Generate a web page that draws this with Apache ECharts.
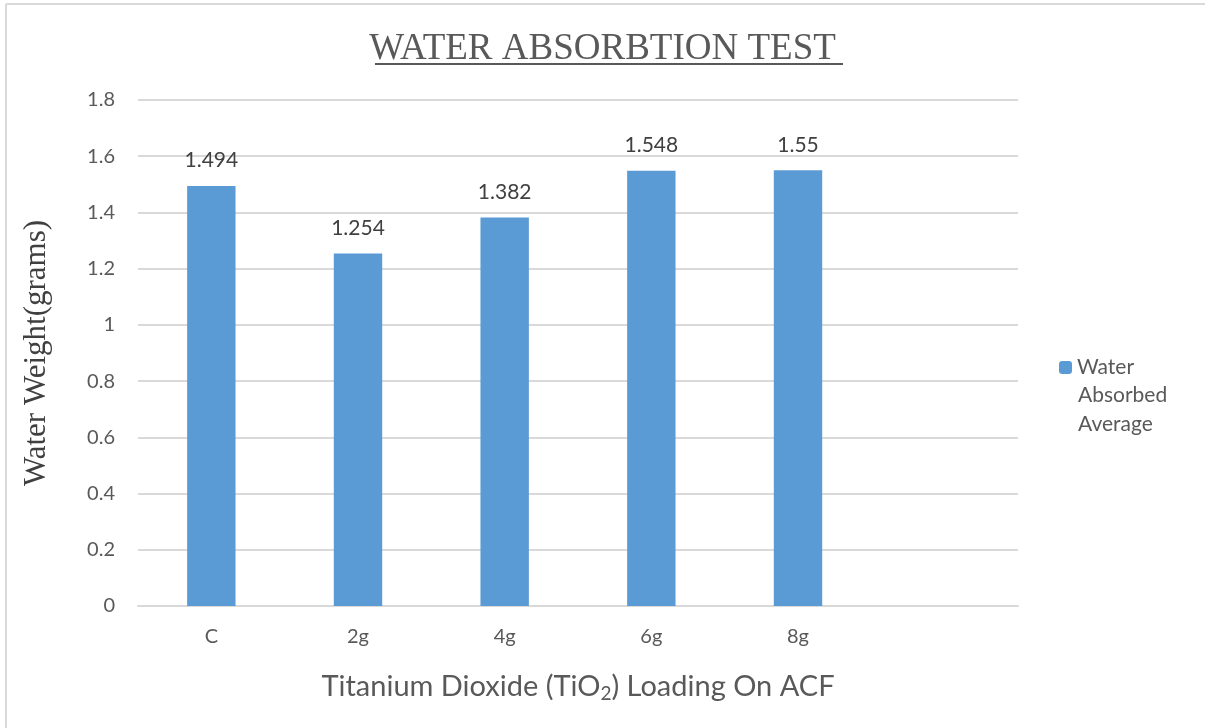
<!DOCTYPE html>
<html>
<head>
<meta charset="utf-8">
<script src="https://cdn.jsdelivr.net/npm/echarts@6/dist/echarts.min.js"></script>
<style>
  html, body { margin: 0; padding: 0; background: #fff; }
  #chart { width: 1205px; height: 728px; }
</style>
</head>
<body>
<div id="chart"></div>
<script>
// categories (last slot is empty, as in the original sheet)
var categories = ['C', '2g', '4g', '6g', '8g', ''];
var waterAbsorbed = [1.494, 1.254, 1.382, 1.548, 1.55, null];
var seriesName = 'Water Absorbed Average';

var myChart = echarts.init(document.getElementById('chart'));
var option = {
    backgroundColor: '#fff',
    animation: false,
    title: {
        text: 'WATER ABSORBTION TEST',
        left: 'center',
        top: 26,
        textStyle: {
            fontFamily: 'Liberation Serif, serif',
            fontWeight: 'normal',
            fontSize: 37,
            color: '#595959'
        }
    },
    // border (top + left only visible), title underline, rest of legend text
    graphic: [
        { type: 'line', shape: { x1: 6, y1: 4, x2: 1205, y2: 4 }, style: { stroke: '#d9d9d9', lineWidth: 2 } },
        { type: 'line', shape: { x1: 6, y1: 4, x2: 6, y2: 728 }, style: { stroke: '#d9d9d9', lineWidth: 2 } },
        { type: 'line', shape: { x1: 375, y1: 64, x2: 843, y2: 64 }, style: { stroke: '#595959', lineWidth: 2 } },
        {
            type: 'text', left: 1078, top: 381,
            style: {
                text: 'Absorbed\nAverage',
                font: '21px Lato, sans-serif',
                fill: '#595959',
                lineHeight: 29
            }
        }
    ],
    legend: {
        left: 1054,
        top: 352,
        itemWidth: 13,
        itemHeight: 13,
        itemGap: 7,
        formatter: function () { return 'Water'; },
        textStyle: {
            fontFamily: 'Lato, sans-serif',
            fontSize: 21,
            color: '#595959'
        },
        data: [seriesName]
    },
    grid: {
        left: 138,
        right: 187,
        top: 100,
        bottom: 122,
        containLabel: false
    },
    xAxis: {
        type: 'category',
        data: categories,
        name: 'Titanium Dioxide (TiO{sub|2}) Loading On ACF',
        nameLocation: 'middle',
        nameGap: 64,
        nameTextStyle: {
            fontFamily: 'Lato, sans-serif',
            fontSize: 29,
            color: '#595959',
            rich: {
                sub: { fontSize: 19, fontFamily: 'Lato, sans-serif', color: '#595959', padding: [14, 0, 0, 0] }
            }
        },
        axisLine: { lineStyle: { color: '#d9d9d9', width: 2 } },
        axisTick: { show: false },
        axisLabel: {
            margin: 21,
            fontFamily: 'Lato, sans-serif',
            fontSize: 20,
            color: '#595959'
        }
    },
    yAxis: {
        type: 'value',
        min: 0,
        max: 1.8,
        interval: 0.2,
        name: 'Water Weight(grams)',
        nameLocation: 'middle',
        nameGap: 86,
        nameTextStyle: {
            fontFamily: 'Liberation Serif, serif',
            fontSize: 31,
            color: '#404040'
        },
        axisLine: { show: false },
        axisTick: { show: false },
        axisLabel: {
            margin: 23,
            fontFamily: 'Lato, sans-serif',
            fontSize: 20,
            color: '#595959',
            formatter: function (v) { return String(Math.round(v * 10) / 10); }
        },
        splitLine: { lineStyle: { color: '#d9d9d9', width: 2 } }
    },
    series: [{
        name: seriesName,
        type: 'bar',
        data: waterAbsorbed,
        barWidth: '33%',
        itemStyle: { color: '#5b9bd5' },
        label: {
            show: true,
            position: 'top',
            distance: 15,
            fontFamily: 'Lato, sans-serif',
            fontSize: 21,
            color: '#404040'
        }
    }]
};
myChart.setOption(option);
</script>
</body>
</html>
